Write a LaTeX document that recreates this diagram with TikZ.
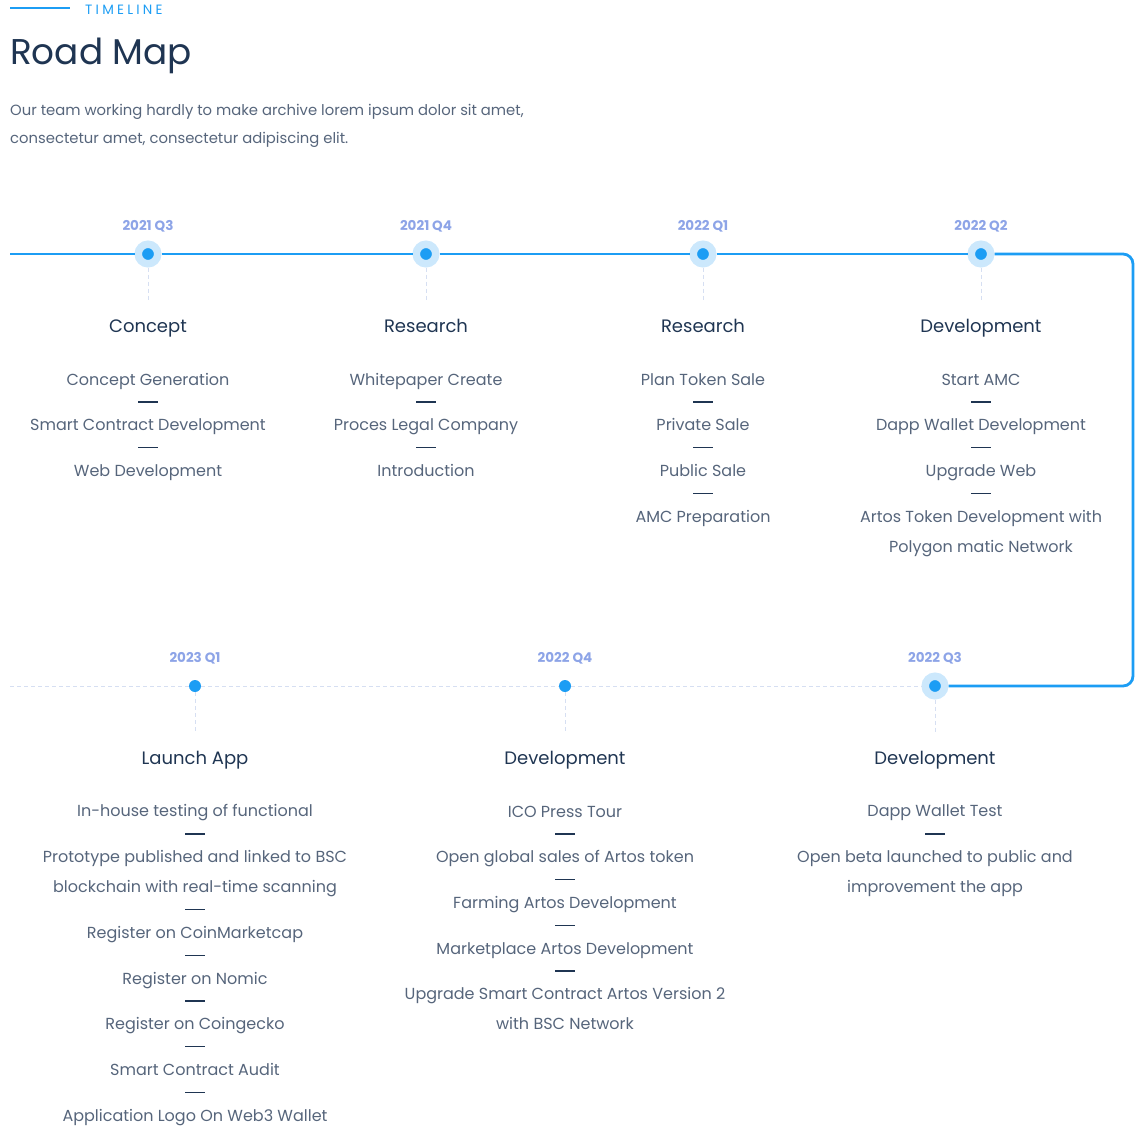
\documentclass[tikz,border=0pt]{standalone}
\usepackage{fontspec}
\setmainfont{Poppins}
\usetikzlibrary{positioning}

\definecolor{tlblue}{HTML}{1C9DF4}
\definecolor{tlhalo}{HTML}{CCE8FC}
\definecolor{tlyear}{HTML}{8DA4E7}
\definecolor{tlnavy}{HTML}{1F3552}
\definecolor{tltext}{HTML}{56657B}
\definecolor{tlgrid}{HTML}{D6DFF2}

\newcommand{\itemstrut}{\rule[-4pt]{0pt}{16pt}}

\begin{document}
\begin{tikzpicture}[
  x=1pt, y=-1pt,
  node distance=21pt,
  dot/.style={circle, fill=tlblue, minimum size=12pt, inner sep=0pt},
  halodot/.style={circle, fill=tlblue, draw=tlhalo, line width=7.5pt, minimum size=19.5pt, inner sep=0pt},
  year/.style={font=\fontsize{13.5}{15}\selectfont\bfseries, text=tlyear, inner sep=0pt, text height=10pt, text depth=0pt},
  title/.style={font=\fontsize{18}{22}\selectfont, text=tlnavy, inner sep=0pt, text height=13pt, text depth=4pt},
  item/.style={font=\fontsize{16}{30}\selectfont, text=tltext, align=center, inner sep=0pt,
    execute at begin node=\itemstrut, execute at end node=\itemstrut},
  divider/.style={rectangle, fill=tlnavy, minimum width=20pt, minimum height=1.3pt, inner sep=0pt},
  mainline/.style={tlblue, line width=2.8pt},
  gridline/.style={tlgrid, line width=0.9pt, dash pattern=on 4pt off 3pt}
]
\useasboundingbox (0,0) rectangle (1143,1135);

% Header
\coordinate (tag_start) at (10,8);
\node[anchor=base west, inner sep=0pt, text=tlblue, font=\fontsize{13.5}{15}\selectfont\addfontfeatures{LetterSpace=24}] (tag) at (85,14) {TIMELINE};
\draw[tlblue, line width=2pt, shorten >=15pt] (tag_start) -- (tag.west |- tag_start);
\node[anchor=base west, inner sep=0pt, text=tlnavy, font=\fontsize{35.8}{40}\selectfont] (heading) at (10,64) {Road Map};
\node[anchor=north west, inner sep=0pt, text=tltext, align=left, font=\fontsize{14.8}{28}\selectfont] (intro) at (10,104)
  {Our team working hardly to make archive lorem ipsum dolor sit amet,\\consectetur amet, consectetur adipiscing elit.};

% Top row
\node[halodot] (s1_dot) at (148,254) {};
\node[halodot] (s2_dot) at (426,254) {};
\node[halodot] (s3_dot) at (703,254) {};
\node[halodot] (s4_dot) at (981,254) {};
% Bottom row
\node[halodot] (s5_dot) at (935,686) {};
\node[dot] (s6_dot) at (565,686) {};
\node[dot] (s7_dot) at (195,686) {};

\coordinate (line_start) at (10,254);
\coordinate (corner_top) at (1133,254);
\coordinate (corner_bot) at (1133,686);
\coordinate (grid_start) at (10,686);

\draw[mainline] (line_start) -- (s1_dot) -- (s2_dot) -- (s3_dot) -- (s4_dot);
\draw[mainline, rounded corners=10pt] (s4_dot) -- (corner_top) -- (corner_bot) -- (s5_dot);
\draw[gridline] (grid_start) -- (s7_dot) -- (s6_dot) -- (s5_dot);

% 2021 Q3
\node[year, above of=s1_dot, node distance=29pt] (s1_year) {2021 Q3};
\node[title, below of=s1_dot, node distance=74pt] (s1_title) {Concept};
\node[item, below of=s1_title, node distance=53pt] (s1_a) {Concept Generation};
\node[divider, below of=s1_a] (s1_ab) {};
\node[item, below of=s1_ab, node distance=24.7pt] (s1_b) {Smart Contract Development};
\node[divider, below of=s1_b] (s1_bc) {};
\node[item, below of=s1_bc, node distance=24.7pt] (s1_c) {Web Development};

% 2021 Q4
\node[year, above of=s2_dot, node distance=29pt] (s2_year) {2021 Q4};
\node[title, below of=s2_dot, node distance=74pt] (s2_title) {Research};
\node[item, below of=s2_title, node distance=53pt] (s2_a) {Whitepaper Create};
\node[divider, below of=s2_a] (s2_ab) {};
\node[item, below of=s2_ab, node distance=24.7pt] (s2_b) {Proces Legal Company};
\node[divider, below of=s2_b] (s2_bc) {};
\node[item, below of=s2_bc, node distance=24.7pt] (s2_c) {Introduction};

% 2022 Q1
\node[year, above of=s3_dot, node distance=29pt] (s3_year) {2022 Q1};
\node[title, below of=s3_dot, node distance=74pt] (s3_title) {Research};
\node[item, below of=s3_title, node distance=53pt] (s3_a) {Plan Token Sale};
\node[divider, below of=s3_a] (s3_ab) {};
\node[item, below of=s3_ab, node distance=24.7pt] (s3_b) {Private Sale};
\node[divider, below of=s3_b] (s3_bc) {};
\node[item, below of=s3_bc, node distance=24.7pt] (s3_c) {Public Sale};
\node[divider, below of=s3_c] (s3_cd) {};
\node[item, below of=s3_cd, node distance=24.7pt] (s3_d) {AMC Preparation};

% 2022 Q2
\node[year, above of=s4_dot, node distance=29pt] (s4_year) {2022 Q2};
\node[title, below of=s4_dot, node distance=74pt] (s4_title) {Development};
\node[item, below of=s4_title, node distance=53pt] (s4_a) {Start AMC};
\node[divider, below of=s4_a] (s4_ab) {};
\node[item, below of=s4_ab, node distance=24.7pt] (s4_b) {Dapp Wallet Development};
\node[divider, below of=s4_b] (s4_bc) {};
\node[item, below of=s4_bc, node distance=24.7pt] (s4_c) {Upgrade Web};
\node[divider, below of=s4_c] (s4_cd) {};
\node[item, below of=s4_cd, node distance=39.7pt] (s4_d) {Artos Token Development with\\Polygon matic Network};

% 2022 Q3
\node[year, above of=s5_dot, node distance=29pt] (s5_year) {2022 Q3};
\node[title, below of=s5_dot, node distance=74pt] (s5_title) {Development};
\node[item, below of=s5_title, node distance=53pt] (s5_a) {Dapp Wallet Test};
\node[divider, below of=s5_a] (s5_ab) {};
\node[item, below of=s5_ab, node distance=39.7pt] (s5_b) {Open beta launched to public and\\improvement the app};

% 2022 Q4
\node[year, above of=s6_dot, node distance=29pt] (s6_year) {2022 Q4};
\node[title, below of=s6_dot, node distance=74pt] (s6_title) {Development};
\node[item, below of=s6_title, node distance=53pt] (s6_a) {ICO Press Tour};
\node[divider, below of=s6_a] (s6_ab) {};
\node[item, below of=s6_ab, node distance=24.7pt] (s6_b) {Open global sales of Artos token};
\node[divider, below of=s6_b] (s6_bc) {};
\node[item, below of=s6_bc, node distance=24.7pt] (s6_c) {Farming Artos Development};
\node[divider, below of=s6_c] (s6_cd) {};
\node[item, below of=s6_cd, node distance=24.7pt] (s6_d) {Marketplace Artos Development};
\node[divider, below of=s6_d] (s6_de) {};
\node[item, below of=s6_de, node distance=39.7pt] (s6_e) {Upgrade Smart Contract Artos Version 2\\with BSC Network};

% 2023 Q1
\node[year, above of=s7_dot, node distance=29pt] (s7_year) {2023 Q1};
\node[title, below of=s7_dot, node distance=74pt] (s7_title) {Launch App};
\node[item, below of=s7_title, node distance=53pt] (s7_a) {In-house testing of functional};
\node[divider, below of=s7_a] (s7_ab) {};
\node[item, below of=s7_ab, node distance=39.7pt] (s7_b) {Prototype published and linked to BSC\\blockchain with real-time scanning};
\node[divider, below of=s7_b, node distance=36pt] (s7_bc) {};
\node[item, below of=s7_bc, node distance=24.7pt] (s7_c) {Register on CoinMarketcap};
\node[divider, below of=s7_c] (s7_cd) {};
\node[item, below of=s7_cd, node distance=24.7pt] (s7_d) {Register on Nomic};
\node[divider, below of=s7_d] (s7_de) {};
\node[item, below of=s7_de, node distance=24.7pt] (s7_e) {Register on Coingecko};
\node[divider, below of=s7_e] (s7_ef) {};
\node[item, below of=s7_ef, node distance=24.7pt] (s7_f) {Smart Contract Audit};
\node[divider, below of=s7_f] (s7_fg) {};
\node[item, below of=s7_fg, node distance=24.7pt] (s7_g) {Application Logo On Web3 Wallet};

% Stems
\foreach \s in {s1,s2,s3,s4,s5,s6,s7}
  \draw[gridline, shorten >=18.5pt] (\s_dot) -- (\s_title);

\end{tikzpicture}
\end{document}
